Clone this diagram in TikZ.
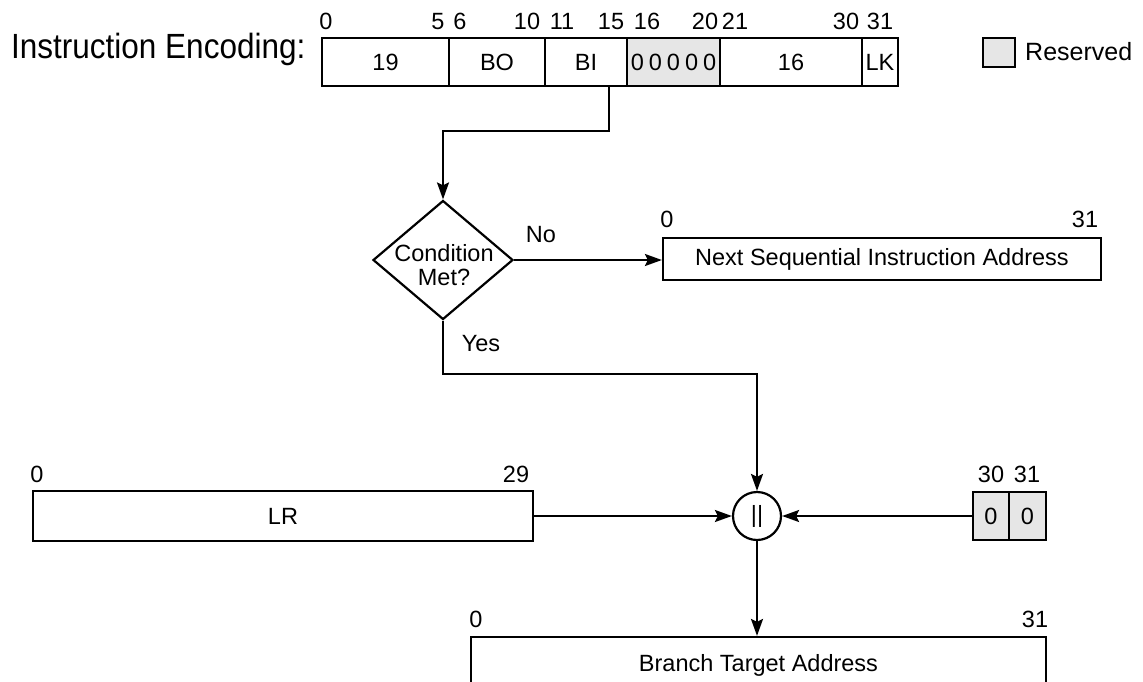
\documentclass[tikz,border=0pt]{standalone}
\usepackage{fontspec}
\setmainfont{Liberation Sans}
\newfontfamily\titlefont[FakeStretch=0.9]{Liberation Sans}
\usetikzlibrary{shapes.geometric,arrows.meta}
\definecolor{resgray}{HTML}{E6E6E6}
\begin{document}
\begin{tikzpicture}[x=1pt,y=-1pt,
  every node/.style={font=\fontsize{23.5}{23.5}\selectfont, inner sep=0pt},
  box/.style={draw, line width=2.2pt},
  field/.style={box, minimum height=48pt},
  res/.style={fill=resgray},
  lbl/.style={anchor=base},
  arr/.style={line width=2.2pt, -{Stealth[length=17pt,width=12pt,inset=3pt]}}]
\useasboundingbox (0,0) rectangle (1143,681);
\clip (0,0) rectangle (1143,681);
\fill[white] (0,0) rectangle (1143,681);

% title
\node[anchor=base west, font=\titlefont\fontsize{35}{35}\selectfont] (title) at (11,58) {Instruction Encoding:};

% instruction fields
\node[field, minimum width=127pt] (f19) at (385.5,62) {19};
\node[field, minimum width=96pt] (fBO) at (497,62) {BO};
\node[field, minimum width=82pt] (fBI) at (586,62) {BI};
\node[field, res, minimum width=93pt] (fR) at (673.5,62) {0\hspace{5pt}0\hspace{5pt}0\hspace{5pt}0\hspace{5pt}0};
\node[field, minimum width=142pt] (f16) at (791,62) {16};
\node[field, minimum width=36pt] (fLK) at (880,62) {LK};

% bit numbers
\node[lbl] (b0) at (326,29) {0};
\node[lbl] (b5) at (438,29) {5};
\node[lbl] (b6) at (460,29) {6};
\node[lbl] (b10) at (527,29) {10};
\node[lbl] (b11) at (562,29) {11};
\node[lbl] (b15) at (611,29) {15};
\node[lbl] (b16) at (647,29) {16};
\node[lbl] (b20) at (705,29) {20};
\node[lbl] (b21) at (735,29) {21};
\node[lbl] (b30) at (846,29) {30};
\node[lbl] (b31) at (880,29) {31};

% legend
\node[box, res, minimum width=32pt, minimum height=29pt] (leg) at (999,52.5) {};
\node[anchor=west, font=\fontsize{25}{25}\selectfont] (legt) at (1025,52) {Reserved};

% decision
\node[diamond, box, minimum width=140pt, minimum height=119pt] (cnd) at (443,260) {};
\node[align=center] (cndt) at (444,265) {Condition\\Met?};
\node[lbl] (no) at (541,242) {No};
\node[lbl] (yes) at (481,351) {Yes};

% next sequential address
\node[box, minimum width=438pt, minimum height=42pt] (nsia) at (882,259) {Next Sequential Instruction Address};
\node[lbl] (n0) at (667,227) {0};
\node[lbl] (n31) at (1085,227) {31};

% concatenation
\node[circle, box, minimum size=48pt] (cat) at (757,516) {||};

% LR
\node[box, minimum width=500pt, minimum height=50pt] (lr) at (283,516) {LR};
\node[lbl] (l0) at (37,482) {0};
\node[lbl] (l29) at (516,482) {29};

% zero bits
\node[field, res, minimum width=36pt] (z30) at (991,516) {0};
\node[field, res, minimum width=37pt] (z31) at (1027.5,516) {0};
\node[lbl] (zl30) at (991,482) {30};
\node[lbl] (zl31) at (1027,482) {31};

% branch target
\node[box, minimum width=575pt, minimum height=56pt] (bta) at (758.5,665) {Branch Target Address};
\node[lbl] (t0) at (476,627) {0};
\node[lbl] (t31) at (1035,627) {31};

% connectors
\draw[arr] ([xshift=23pt]fBI.south) -- ++(0,44) -| (cnd.north);
\draw[arr] (cnd.east) -- (cnd.east -| nsia.west);
\draw[arr] (cnd.south) -- ++(0,53) -| (cat.north);
\draw[arr] (lr.east) -- (cat.west);
\draw[arr] (z30.west) -- (cat.east);
\draw[arr] (cat.south) -- (cat.south |- bta.north);
\end{tikzpicture}
\end{document}
